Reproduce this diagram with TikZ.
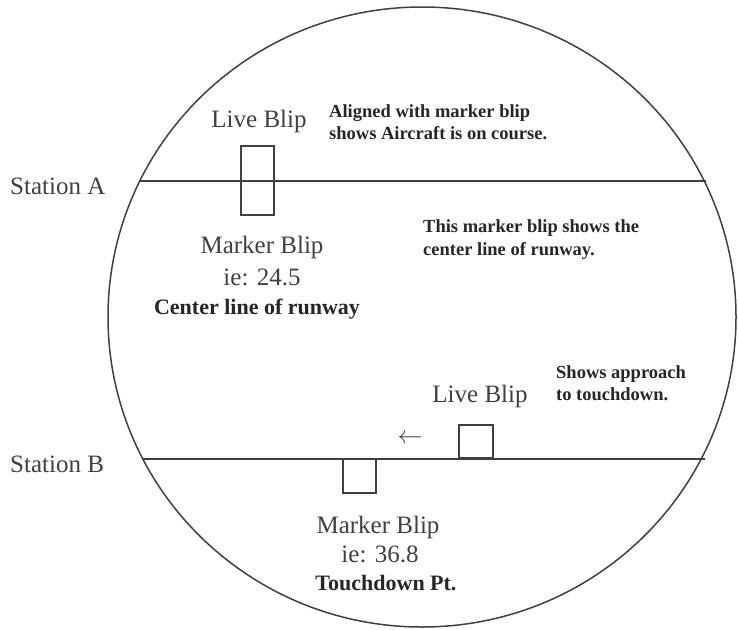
\documentclass[tikz,border=0pt]{standalone}
\usepackage{fontspec}
\setmainfont{Liberation Serif}
\begin{document}
\begin{tikzpicture}[x=1pt,y=-1pt,
  ink/.style={draw=black!75, line width=1.3pt},
  blip/.style={ink, rectangle, inner sep=0pt},
  big/.style={text=black!75, inner sep=0pt, font=\fontsize{25}{28}\selectfont},
  bold/.style={text=black!85, inner sep=0pt, font=\bfseries\fontsize{22}{25}\selectfont},
  note/.style={text=black!85, inner sep=0pt, align=left, font=\bfseries\fontsize{18.5}{22}\selectfont}]
\useasboundingbox (0,0) rectangle (738,629);
% radar screen
\draw[ink, line width=1.5pt] (422,317) ellipse [x radius=314, y radius=310];
% station lines
\coordinate (aL) at (139,181);
\coordinate (aR) at (706,181);
\coordinate (bL) at (142,459);
\coordinate (bR) at (705,459);
\draw[ink] (aL) -- (aR);
\draw[ink] (bL) -- (bR);
% blips
\node[blip, minimum width=33, minimum height=35] (liveA) at (257.5,163.5) {};
\node[blip, minimum width=33, minimum height=34] (markA) at (257.5,198) {};
\node[blip, minimum width=33, minimum height=34] (markB) at (359.5,476) {};
\node[blip, minimum width=34, minimum height=33] (liveB) at (476,441.5) {};
% labels station A
\node[big, anchor=base west] (stA) at (10,194) {Station A};
\node[big, anchor=base] (liveAt) at (259,127) {Live Blip};
\node[note, anchor=base west] (noteA1) at (329,117) {Aligned with marker blip};
\node[note, anchor=base west] (noteA2) at (329,139) {shows Aircraft is on course.};
\node[big, anchor=base] (markAt) at (262,253) {Marker Blip};
\node[big, anchor=base] (markAv) at (262,285) {ie: 24.5};
\node[bold, anchor=base] (markAd) at (257,314) {Center line of runway};
\node[note, anchor=base west] (noteM1) at (423,232) {This marker blip shows the};
\node[note, anchor=base west] (noteM2) at (423,255) {center line of runway.};
% labels station B
\node[big, anchor=base west] (stB) at (10,472) {Station B};
\node[big, anchor=base] (liveBt) at (480,402) {Live Blip};
\node[note, anchor=base west] (noteB1) at (556,378) {Shows approach};
\node[note, anchor=base west] (noteB2) at (556,400) {to touchdown.};
\node[big] (arr) at (410,439) {$\leftarrow$};
\node[big, anchor=base] (markBt) at (378,533) {Marker Blip};
\node[big, anchor=base] (markBv) at (380,562) {ie: 36.8};
\node[bold, anchor=base] (markBd) at (386,590) {Touchdown Pt.};
\end{tikzpicture}
\end{document}
